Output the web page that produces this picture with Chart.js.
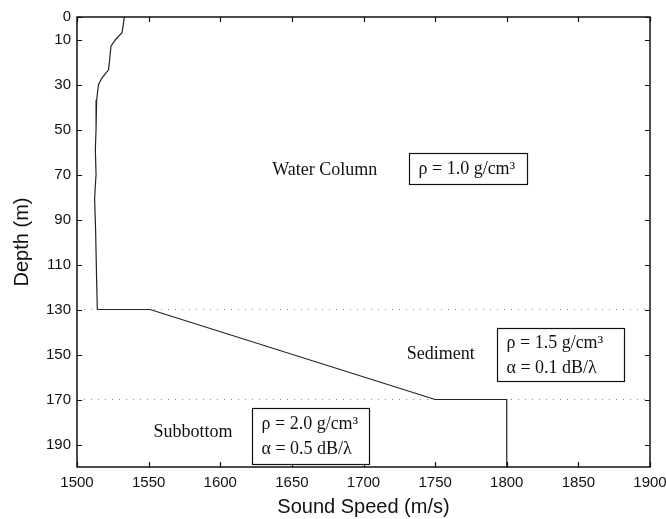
<!DOCTYPE html>
<html>
<head>
<meta charset="utf-8">
<script src="https://cdn.jsdelivr.net/npm/chart.js@4.4.1/dist/chart.umd.min.js"></script>
<style>
  html, body { margin: 0; padding: 0; background: #fff; }
  #wrap { width: 666px; height: 519px; }
</style>
</head>
<body>
<div id="wrap"><canvas id="profile" width="666" height="519"></canvas></div>
<script>
// ─── Data ─────────────────────────────────────────────────
const profileDepth = [0, 3.6, 7, 10, 13, 19, 23.5, 27, 30, 37, 50, 59, 70, 77, 81, 95, 117, 130, 130, 170, 170, 200];
const profileSpeed = [1533, 1532.3, 1531.4, 1527, 1523.7, 1522.8, 1522, 1517.5, 1515, 1513.7, 1513.3, 1512.8, 1513.3, 1512.6, 1512.3, 1513, 1513.7, 1514.2, 1551, 1750, 1800, 1800];

const interfaceDepths = [130, 170];
const speedRange = [1500, 1900];
const depthRange = [0, 200];

const speedTicks = [1500, 1550, 1600, 1650, 1700, 1750, 1800, 1850, 1900];
const depthTicks = [0, 10, 30, 50, 70, 90, 110, 130, 150, 170, 190];

const layerNames = ['Water Column', 'Sediment', 'Subbottom'];
const layerProps = [
  ['ρ = 1.0 g/cm³'],
  ['ρ = 1.5 g/cm³', 'α = 0.1 dB/λ'],
  ['ρ = 2.0 g/cm³', 'α = 0.5 dB/λ']
];

// ─── Layout helpers (data units) ──────────────────────────
const namePos = [[1673, 68], [1754, 150], [1581, 184.4]];
const boxPos = [[1773, 67.3], [1837.5, 150.1], [1663.2, 186]];
const boxSize = [[118, 31], [127, 53], [117, 56]];

const serif = '"Liberation Serif", "DejaVu Serif", serif';
const sans = '"Liberation Sans", Arial, sans-serif';

const datasets = [{
  data: profileSpeed.map((s, i) => ({ x: s, y: profileDepth[i] })),
  showLine: true,
  borderColor: '#222',
  borderWidth: 1.2,
  pointRadius: 0,
  tension: 0
}];
interfaceDepths.forEach(d => {
  datasets.push({
    data: speedRange.map(s => ({ x: s, y: d })),
    showLine: true,
    borderColor: '#888',
    borderWidth: 1,
    borderDash: [1, 6],
    pointRadius: 0
  });
});

// frame with inward ticks on all four sides, like the original
const framePlugin = {
  id: 'frame',
  afterDatasetsDraw(chart) {
    const { ctx, chartArea: a, scales: { x, y } } = chart;
    ctx.save();
    ctx.strokeStyle = '#111';
    ctx.lineWidth = 1.5;
    ctx.strokeRect(a.left, a.top, a.right - a.left, a.bottom - a.top);
    ctx.lineWidth = 1.2;
    const len = 5;
    ctx.beginPath();
    speedTicks.forEach(v => {
      const px = Math.round(x.getPixelForValue(v)) + 0.5;
      ctx.moveTo(px, a.bottom); ctx.lineTo(px, a.bottom - len);
      ctx.moveTo(px, a.top); ctx.lineTo(px, a.top + len);
    });
    depthTicks.forEach(v => {
      const py = Math.round(y.getPixelForValue(v)) + 0.5;
      ctx.moveTo(a.left, py); ctx.lineTo(a.left + len, py);
      ctx.moveTo(a.right, py); ctx.lineTo(a.right - len, py);
    });
    ctx.stroke();

    // layer labels and property boxes
    ctx.fillStyle = '#111';
    ctx.textAlign = 'center';
    ctx.textBaseline = 'middle';
    ctx.font = '18px ' + serif;
    layerNames.forEach((name, i) => {
      ctx.fillText(name, x.getPixelForValue(namePos[i][0]), y.getPixelForValue(namePos[i][1]));
    });
    layerProps.forEach((lines, i) => {
      const cx = x.getPixelForValue(boxPos[i][0]);
      const cy = y.getPixelForValue(boxPos[i][1]);
      const [w, h] = boxSize[i];
      const bx = Math.round(cx - w / 2) + 0.5, by = Math.round(cy - h / 2) + 0.5;
      ctx.fillStyle = '#fff';
      ctx.fillRect(bx, by, w, h);
      ctx.strokeStyle = '#111';
      ctx.lineWidth = 1.2;
      ctx.strokeRect(bx, by, w, h);
      ctx.fillStyle = '#111';
      ctx.textAlign = 'left';
      const lh = 25;
      const startY = cy - (lines.length - 1) * lh / 2 + 1;
      lines.forEach((t, j) => ctx.fillText(t, bx + 9, startY + j * lh));
      ctx.textAlign = 'center';
    });
    ctx.restore();
  }
};

new Chart(document.getElementById('profile'), {
  type: 'scatter',
  data: { datasets },
  options: {
    responsive: false,
    animation: false,
    layout: { padding: { top: 17, right: 16, left: 0, bottom: 0 } },
    plugins: { legend: { display: false }, tooltip: { enabled: false } },
    scales: {
      x: {
        type: 'linear',
        min: speedRange[0],
        max: speedRange[1],
        afterFit(scale) { scale.height = 52; scale.paddingLeft = 0; scale.paddingRight = 0; },
        afterBuildTicks(scale) { scale.ticks = speedTicks.map(v => ({ value: v })); },
        grid: { display: false, drawTicks: false },
        border: { display: false },
        ticks: { color: '#111', padding: 7, maxRotation: 0, callback: v => String(v), font: { family: sans, size: 15 } },
        title: { display: true, text: 'Sound Speed (m/s)', color: '#111', padding: { top: 0, bottom: 0 }, font: { family: sans, size: 20 } }
      },
      y: {
        type: 'linear',
        reverse: true,
        min: depthRange[0],
        max: depthRange[1],
        afterFit(scale) { scale.width = 77; scale.paddingTop = 0; scale.paddingBottom = 0; },
        afterBuildTicks(scale) { scale.ticks = depthTicks.map(v => ({ value: v })); },
        grid: { display: false, drawTicks: false },
        border: { display: false },
        ticks: { color: '#111', padding: 6, callback: v => String(v), font: { family: sans, size: 15 } },
        title: { display: true, text: 'Depth (m)', color: '#111', padding: { top: 10, bottom: 0 }, font: { family: sans, size: 20 } }
      }
    }
  },
  plugins: [framePlugin]
});
</script>
</body>
</html>
